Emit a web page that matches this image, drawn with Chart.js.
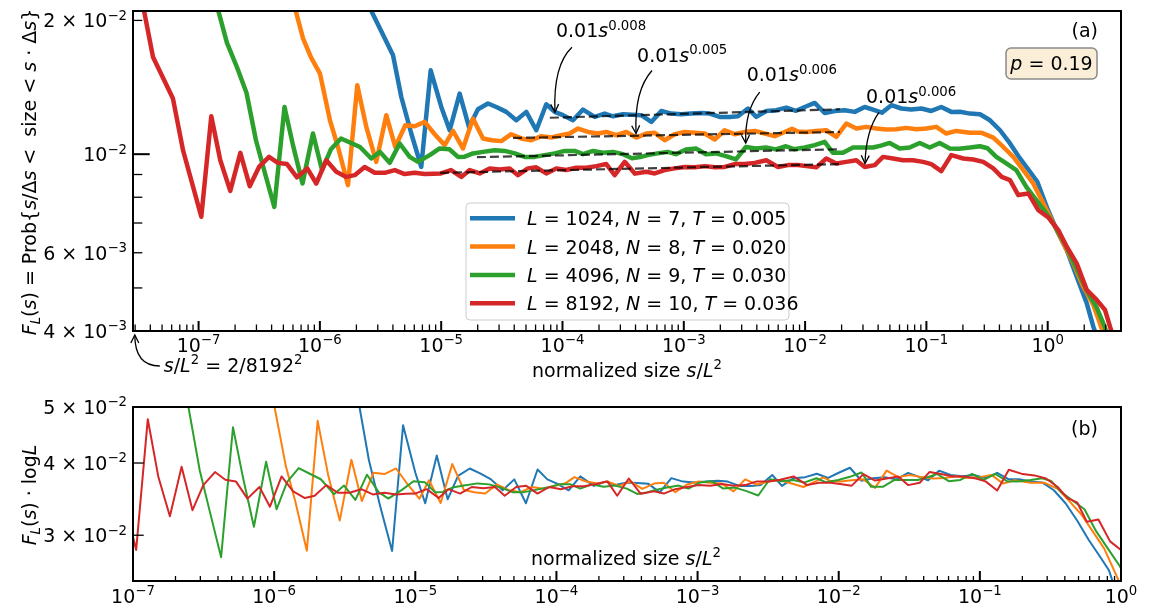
<!DOCTYPE html>
<html>
<head>
<meta charset="utf-8">
<title>Cluster size distribution</title>
<script src="https://cdn.jsdelivr.net/npm/chart.js@4.4.0/dist/chart.umd.min.js"></script>
<style>
  html, body { margin: 0; padding: 0; background: #fff; }
  #wrap { position: relative; width: 1150px; height: 606px; }
  #topBox { position: absolute; left: 0; top: 0; width: 1150px; height: 380px; }
  #botBox { position: absolute; left: 0; top: 380px; width: 1150px; height: 226px; }
</style>
</head>
<body>
<div id="wrap">
  <div id="topBox"><canvas id="topChart"></canvas></div>
  <div id="botBox"><canvas id="botChart"></canvas></div>
</div>
<script>
// Series parameters
const L_VALUES = [1024, 2048, 4096, 8192];
const N_VALUES = [7, 8, 9, 10];
const T_VALUES = ['0.005', '0.020', '0.030', '0.036'];
const COLORS = ['#1f77b4', '#ff7f0e', '#2ca02c', '#d62728'];

// F_L(s) against normalized size s/L^2, pairs [s/L^2, F_L]
const F_L1024 = [
  [1.91e-6, 0.02525], [4.01e-6, 0.01669], [4.69e-6, 0.01345], [5.67e-6, 0.01113], [6.85e-6, 0.00936],
  [8.19e-6, 0.01544], [1.002e-5, 0.01277], [1.175e-5, 0.01132], [1.42e-5, 0.01369], [1.695e-5, 0.0115],
  [2.01e-5, 0.01262], [2.43e-5, 0.0130], [2.88e-5, 0.01275], [3.44e-5, 0.01245], [4.16e-5, 0.01192],
  [5.03e-5, 0.01245], [6.08e-5, 0.01132], [7.35e-5, 0.01295], [8.62e-5, 0.01245], [1.009e-4, 0.01224],
  [1.221e-4, 0.01192], [1.476e-4, 0.0126], [1.842e-4, 0.01213], [2.228e-4, 0.01234], [2.607e-4, 0.01217],
  [3.153e-4, 0.0123], [3.74e-4, 0.01227], [4.46e-4, 0.01224], [5.40e-4, 0.01182], [6.52e-4, 0.01251],
  [7.89e-4, 0.01234], [9.54e-4, 0.0123], [1.153e-3, 0.01234], [1.394e-3, 0.01238], [1.635e-3, 0.01234],
  [1.977e-3, 0.01213], [2.39e-3, 0.01213], [2.797e-3, 0.01217], [3.382e-3, 0.01267], [3.96e-3, 0.01213],
  [4.79e-3, 0.01251], [5.79e-3, 0.01256], [7.0e-3, 0.01273], [8.41e-3, 0.01252], [9.92e-3, 0.01277],
  [1.2e-2, 0.01304], [1.45e-2, 0.01238], [1.754e-2, 0.01251], [2.121e-2, 0.01256], [2.564e-2, 0.01245],
  [3.10e-2, 0.01277], [3.63e-2, 0.0126], [4.30e-2, 0.0124], [5.14e-2, 0.01289], [6.21e-2, 0.01267],
  [7.51e-2, 0.0126], [9.08e-2, 0.01267], [0.1097, 0.01251], [0.1327, 0.01277], [0.1604, 0.01245],
  [0.1892, 0.01246], [0.2288, 0.01234], [0.2766, 0.0123], [0.3345, 0.01192], [0.4045, 0.01132],
  [0.4889, 0.01057], [0.5911, 0.00978], [0.7146, 0.00913], [0.821, 0.00867], [0.9813, 0.00761],
  [1.186, 0.00675], [1.435, 0.00609], [1.734, 0.0053], [2.097, 0.00462], [2.377, 0.00409], [2.699, 0.00372]
];

const F_L2048 = [
  [4.777e-7, 0.02729], [6.0e-7, 0.02219], [7.26e-7, 0.01823], [8.45e-7, 0.01652], [1.002e-6, 0.01518],
  [1.211e-6, 0.01192], [1.41e-6, 0.01038], [1.705e-6, 0.00852], [2.034e-6, 0.01429], [2.413e-6, 0.01152],
  [2.917e-6, 0.00961], [3.527e-6, 0.01224], [4.18e-6, 0.01038], [5.06e-6, 0.01162], [6.05e-6, 0.01156],
  [7.31e-6, 0.01182], [8.84e-6, 0.01109], [1.069e-5, 0.01048], [1.251e-5, 0.01128], [1.512e-5, 0.0103],
  [1.829e-5, 0.01203], [2.211e-5, 0.01085], [2.623e-5, 0.01075], [3.13e-5, 0.0107], [3.78e-5, 0.01109],
  [4.57e-5, 0.01085], [5.53e-5, 0.01075], [6.69e-5, 0.01098], [8.09e-5, 0.0109], [9.77e-5, 0.01103],
  [1.147e-4, 0.01113], [1.342e-4, 0.01142], [1.623e-4, 0.01122], [1.962e-4, 0.01113], [2.297e-4, 0.01122],
  [2.777e-4, 0.01103], [3.357e-4, 0.01122], [4.06e-4, 0.0109], [4.91e-4, 0.01113], [5.76e-4, 0.01117],
  [6.96e-4, 0.01075], [8.41e-4, 0.01109], [1.017e-3, 0.01122], [1.23e-3, 0.01117], [1.487e-3, 0.01113],
  [1.798e-3, 0.01079], [2.173e-3, 0.01132], [2.628e-3, 0.01109], [3.178e-3, 0.01122], [3.842e-3, 0.01128],
  [4.65e-3, 0.01113], [5.62e-3, 0.01098], [6.79e-3, 0.01122], [7.79e-3, 0.01141], [8.74e-3, 0.01124],
  [1.023e-2, 0.01122], [1.237e-2, 0.01128], [1.496e-2, 0.01132], [1.808e-2, 0.01094], [2.186e-2, 0.01172],
  [2.643e-2, 0.01142], [3.195e-2, 0.01152], [3.864e-2, 0.01142], [4.67e-2, 0.01136], [5.65e-2, 0.01138],
  [6.83e-2, 0.01146], [8.26e-2, 0.01138], [9.98e-2, 0.01142], [0.1207, 0.01152], [0.1459, 0.01113],
  [0.1764, 0.01128], [0.2288, 0.01117], [0.2857, 0.01117], [0.356, 0.0109], [0.4305, 0.01038],
  [0.5205, 0.00986], [0.6292, 0.00921], [0.7607, 0.00859], [0.9199, 0.00775], [1.112, 0.00699],
  [1.345, 0.0063], [1.626, 0.00568], [1.966, 0.00503], [2.376, 0.00458], [2.698, 0.00416], [3.024, 0.00378]
];

const F_L4096 = [
  [1.195e-7, 0.02564], [1.714e-7, 0.01781], [2.073e-7, 0.01569], [2.482e-7, 0.01375], [2.972e-7, 0.01075],
  [3.527e-7, 0.00906], [4.21e-7, 0.00761], [5.11e-7, 0.01277], [6.0e-7, 0.01048], [7.19e-7, 0.00859],
  [8.77e-7, 0.01113], [1.041e-6, 0.00921], [1.234e-6, 0.01026], [1.492e-6, 0.01085], [1.788e-6, 0.01061],
  [2.141e-6, 0.01038], [2.653e-6, 0.00978], [3.13e-6, 0.01012], [3.763e-6, 0.00956], [4.55e-6, 0.01057],
  [5.50e-6, 0.00986], [6.44e-6, 0.00961], [8.04e-6, 0.00995], [9.72e-6, 0.0103], [1.168e-5, 0.01026],
  [1.375e-5, 0.00986], [1.564e-5, 0.00987], [1.829e-5, 0.01004], [2.211e-5, 0.01012], [2.762e-5, 0.01021],
  [3.339e-5, 0.01017], [4.04e-5, 0.01004], [4.88e-5, 0.00986], [5.90e-5, 0.00986], [7.13e-5, 0.00995],
  [8.62e-5, 0.01004], [1.043e-4, 0.01017], [1.261e-4, 0.01017], [1.476e-4, 0.0100], [1.784e-4, 0.01017],
  [2.157e-4, 0.01007], [2.607e-4, 0.01012], [3.153e-4, 0.0100], [3.74e-4, 0.00979], [4.36e-4, 0.00985],
  [5.03e-4, 0.00995], [6.08e-4, 0.01004], [7.35e-4, 0.01012], [8.61e-4, 0.0100], [1.041e-3, 0.01025],
  [1.259e-3, 0.0103], [1.521e-3, 0.0100], [1.84e-3, 0.01004], [2.224e-3, 0.0099], [2.69e-3, 0.00973],
  [3.25e-3, 0.01038], [3.93e-3, 0.0103], [4.75e-3, 0.01035], [5.74e-3, 0.01025], [6.95e-3, 0.01042],
  [8.1e-3, 0.01026], [9.92e-3, 0.01035], [1.2e-2, 0.01048], [1.45e-2, 0.01066], [1.698e-2, 0.01007],
  [2.053e-2, 0.01007], [2.483e-2, 0.01035], [3.0e-2, 0.01035], [3.63e-2, 0.01035], [4.22e-2, 0.01045],
  [4.98e-2, 0.0106], [6.02e-2, 0.0103], [7.28e-2, 0.01035], [8.81e-2, 0.0106], [0.1065, 0.01035],
  [0.1287, 0.0106], [0.1557, 0.0103], [0.1857, 0.01029], [0.2288, 0.01035], [0.2766, 0.01042],
  [0.3195, 0.01031], [0.3771, 0.00986], [0.4558, 0.00953], [0.5509, 0.00921], [0.6662, 0.00844],
  [0.8054, 0.00788], [0.9739, 0.00736], [1.177, 0.00681], [1.424, 0.00619], [1.721, 0.00554],
  [2.081, 0.00495], [2.516, 0.00454], [2.945, 0.00409], [3.238, 0.00378]
];

const F_L8192 = [
  [2.98e-8, 0.0269], [4.21e-8, 0.01655], [6.15e-8, 0.01334], [7.44e-8, 0.01021], [1.053e-7, 0.00723],
  [1.273e-7, 0.01217], [1.51e-7, 0.00969], [1.825e-7, 0.00827], [2.21e-7, 0.01007], [2.64e-7, 0.00847],
  [3.15e-7, 0.00936], [3.81e-7, 0.00986], [4.51e-7, 0.00956], [5.36e-7, 0.0095], [6.47e-7, 0.00887],
  [7.87e-7, 0.00929], [9.34e-7, 0.00859], [1.129e-6, 0.00969], [1.365e-6, 0.00913], [1.651e-6, 0.00889],
  [1.936e-6, 0.00897], [2.34e-6, 0.00936], [2.83e-6, 0.00908], [3.42e-6, 0.00908], [4.14e-6, 0.00921],
  [5.0e-6, 0.00902], [6.05e-6, 0.00908], [7.31e-6, 0.00902], [8.56e-6, 0.00904], [9.96e-6, 0.00905],
  [1.205e-5, 0.00921], [1.465e-5, 0.00889], [1.718e-5, 0.00921], [2.077e-5, 0.00905], [2.512e-5, 0.00929],
  [3.036e-5, 0.00924], [3.67e-5, 0.00929], [4.30e-5, 0.00897], [5.19e-5, 0.00929], [6.08e-5, 0.00934],
  [7.35e-5, 0.00905], [8.89e-5, 0.00929], [1.075e-4, 0.00921], [1.30e-4, 0.00932], [1.571e-4, 0.00932],
  [1.90e-4, 0.0094], [2.297e-4, 0.0095], [2.694e-4, 0.00897], [3.257e-4, 0.00961], [3.96e-4, 0.00904],
  [4.91e-4, 0.00913], [5.76e-4, 0.00905], [6.96e-4, 0.00921], [8.41e-4, 0.00929], [1.017e-3, 0.00936],
  [1.23e-3, 0.00934], [1.487e-3, 0.0094], [1.798e-3, 0.00934], [2.173e-3, 0.00936], [2.628e-3, 0.0095],
  [3.178e-3, 0.0095], [3.842e-3, 0.00956], [4.79e-3, 0.00969], [5.98e-3, 0.00936], [7.23e-3, 0.00945],
  [8.74e-3, 0.00945], [1.023e-2, 0.0094], [1.237e-2, 0.00934], [1.496e-2, 0.00978], [1.808e-2, 0.00953],
  [2.186e-2, 0.00961], [2.643e-2, 0.00969], [3.10e-2, 0.00936], [3.75e-2, 0.00945], [4.39e-2, 0.00986],
  [5.31e-2, 0.00978], [6.41e-2, 0.00969], [7.75e-2, 0.00969], [9.38e-2, 0.00961], [0.1097, 0.0095],
  [0.1327, 0.00916], [0.1604, 0.00995], [0.2014, 0.00978], [0.2435, 0.00973], [0.2944, 0.00961],
  [0.356, 0.00929], [0.4176, 0.00889], [0.4889, 0.00874], [0.5723, 0.00809], [0.692, 0.00816],
  [0.8367, 0.00748], [1.011, 0.00721], [1.223, 0.00675], [1.435, 0.00619], [1.734, 0.00568],
  [2.097, 0.00495], [2.535, 0.0047], [2.969, 0.00446], [3.264, 0.00409], [3.66, 0.00372]
];

const SERIES = [F_L1024, F_L2048, F_L4096, F_L8192];

// plateau guides a*x^b, drawn from FIT_FROM to FIT_TO
const FIT_EXPONENTS = [0.008, 0.005, 0.006, 0.006];
const FIT_FROM = [7.87e-5, 3.91e-5, 1.97e-5, 9.79e-6];
const FIT_TO = 1.94e-2;
const FIT_LEVEL = [0.01262, 0.01122, 0.01026, 0.0095];

// tick values
const X_DECADES = [1e-7, 1e-6, 1e-5, 1e-4, 1e-3, 1e-2, 1e-1, 1];
const TOP_Y_TICKS = [0.004, 0.006, 0.01, 0.02];
const BOT_Y_TICKS = [0.03, 0.04, 0.05];

const P_VALUE = '0.19';
const SMALLEST = '2/8192';

const FONT = 'DejaVu Sans';
const FS = 19;

// ---------- text helpers (mathtext-like runs) ----------
function fontSpec(size, italic) {
  return (italic ? 'italic ' : '') + size + 'px "' + FONT + '"';
}

function runSize(st) {
  return (st.includes('sup') || st.includes('sub')) ? FS * 0.7 : FS;
}

function richWidth(ctx, parts) {
  let w = 0;
  for (const [t, st = ''] of parts) {
    ctx.font = fontSpec(runSize(st), st.startsWith('i'));
    w += ctx.measureText(t).width;
  }
  return w;
}

function drawRich(ctx, parts, x, y, align = 'left') {
  const w = richWidth(ctx, parts);
  let cx = align === 'center' ? x - w / 2 : align === 'right' ? x - w : x;
  ctx.textAlign = 'left';
  ctx.textBaseline = 'alphabetic';
  for (const [t, st = ''] of parts) {
    ctx.font = fontSpec(runSize(st), st.startsWith('i'));
    const dy = st.includes('sup') ? -FS * 0.4 : st.includes('sub') ? FS * 0.22 : 0;
    ctx.fillText(t, cx, y + dy);
    cx += ctx.measureText(t).width;
  }
}

function logLabel(v) {
  const e = Math.floor(Math.log10(v) + 1e-9);
  const m = Math.round(v / Math.pow(10, e));
  const parts = [];
  if (m !== 1) parts.push([m + ' × ']);
  parts.push(['10'], [(e < 0 ? '−' : '') + Math.abs(e), 'sup']);
  return parts;
}

function minorTicks(lo, hi) {
  const out = [];
  for (let e = Math.floor(Math.log10(lo)); e <= Math.ceil(Math.log10(hi)); e++) {
    for (let k = 2; k <= 9; k++) {
      const v = k * Math.pow(10, e);
      if (v >= lo && v <= hi) out.push(v);
    }
  }
  return out;
}

function arrow(ctx, tail, ctrl, tip) {
  ctx.lineWidth = 1.3;
  ctx.beginPath();
  ctx.moveTo(tail[0], tail[1]);
  ctx.quadraticCurveTo(ctrl[0], ctrl[1], tip[0], tip[1]);
  ctx.stroke();
  const dx = tip[0] - ctrl[0], dy = tip[1] - ctrl[1];
  const len = Math.hypot(dx, dy);
  const ux = dx / len, uy = dy / len;
  const hl = 8, hw = 4;
  ctx.beginPath();
  ctx.moveTo(tip[0] - ux * hl - uy * hw, tip[1] - uy * hl + ux * hw);
  ctx.lineTo(tip[0], tip[1]);
  ctx.lineTo(tip[0] - ux * hl + uy * hw, tip[1] - uy * hl - ux * hw);
  ctx.stroke();
}

function roundRect(ctx, x, y, w, h, r) {
  ctx.beginPath();
  ctx.moveTo(x + r, y);
  ctx.arcTo(x + w, y, x + w, y + h, r);
  ctx.arcTo(x + w, y + h, x, y + h, r);
  ctx.arcTo(x, y + h, x, y, r);
  ctx.arcTo(x, y, x + w, y, r);
  ctx.closePath();
}

// spines, inward ticks, tick labels, then chart specific extras
function axesPlugin(cfg) {
  return {
    id: 'axesDecor',
    afterDatasetsDraw(chart) {
      const { ctx, chartArea: a, scales } = chart;
      const xs = scales.x, ys = scales.y;
      ctx.save();
      ctx.strokeStyle = '#000';
      ctx.fillStyle = '#000';
      ctx.lineCap = 'butt';

      const xTick = (v, len, w) => {
        const px = xs.getPixelForValue(v);
        if (px < a.left - 0.5 || px > a.right + 0.5) return;
        ctx.lineWidth = w;
        ctx.beginPath();
        ctx.moveTo(px, a.bottom);
        ctx.lineTo(px, a.bottom - len);
        ctx.stroke();
      };
      const yTick = (v, len, w) => {
        const py = ys.getPixelForValue(v);
        ctx.lineWidth = w;
        ctx.beginPath();
        ctx.moveTo(a.left, py);
        ctx.lineTo(a.left + len, py);
        ctx.stroke();
      };

      minorTicks(xs.min, xs.max).forEach(v => xTick(v, cfg.xMinorLen, 1.3));
      X_DECADES.forEach(v => xTick(v, 10, 2));
      cfg.yMinor.forEach(v => yTick(v, cfg.yMinorLen, 1.3));
      cfg.yMajor.forEach(v => yTick(v, 16.7, 2));

      ctx.lineWidth = 2;
      ctx.strokeRect(a.left, a.top, a.right - a.left, a.bottom - a.top);

      X_DECADES.forEach(v => {
        const px = xs.getPixelForValue(v);
        drawRich(ctx, logLabel(v), px, a.bottom + cfg.xLabelGap, 'center');
      });
      cfg.yLabels.forEach(v => {
        const py = ys.getPixelForValue(v);
        drawRich(ctx, logLabel(v), a.left - 6, py + 7, 'right');
      });

      cfg.extra(ctx, chart);
      ctx.restore();
    }
  };
}

// ---------- top panel extras ----------
const GUIDE_NOTES = [
  { tip: [8.67e-5, 0.01243], tail: [17, -65], ctrl: [-2, -47], text: [1, -75] },
  { tip: [4.04e-4, 0.01113], tail: [16, -63], ctrl: [-2, -43], text: [1, -72] },
  { tip: [3.24e-3, 0.01059], tail: [14, -51], ctrl: [-1, -33], text: [1, -62] },
  { tip: [3.118e-2, 0.00953], tail: [14, -51], ctrl: [1, -33], text: [1, -60] }
];

function drawTopExtras(ctx, chart) {
  const a = chart.chartArea, xs = chart.scales.x, ys = chart.scales.y;

  // axis titles
  drawRich(ctx, [['normalized size '], ['s', 'i'], ['/'], ['L', 'i'], ['2', 'sup']], 627, 377, 'center');
  ctx.save();
  ctx.translate(36, 172);
  ctx.rotate(-Math.PI / 2);
  drawRich(ctx, [['F', 'i'], ['L', 'isub'], ['('], ['s', 'i'], [') = Prob{'], ['s', 'i'], ['/Δ'], ['s', 'i'],
    [' <  size < '], ['s', 'i'], [' · Δ'], ['s', 'i'], ['}']], 0, 0, 'center');
  ctx.restore();

  // guide annotations with curved arrows
  GUIDE_NOTES.forEach((n, i) => {
    const tx = xs.getPixelForValue(n.tip[0]);
    const ty = ys.getPixelForValue(n.tip[1]);
    arrow(ctx, [tx + n.tail[0], ty + n.tail[1]], [tx + n.ctrl[0], ty + n.ctrl[1]], [tx, ty]);
    drawRich(ctx, [['0.01'], ['s', 'i'], [FIT_EXPONENTS[i].toFixed(3), 'sup']], tx + n.text[0], ty + n.text[1]);
  });

  // smallest cluster marker below the axis
  const lx = xs.getPixelForValue(2 / (8192 * 8192));
  arrow(ctx, [lx + 25, a.bottom + 35], [lx, a.bottom + 35], [lx, a.bottom + 4]);
  drawRich(ctx, [['s', 'i'], ['/'], ['L', 'i'], ['2', 'sup'], [' = ' + SMALLEST], ['2', 'sup']], lx + 29, a.bottom + 41);

  // panel tag and parameter box
  drawRich(ctx, [['(a)']], a.right - 23, 37, 'right');
  ctx.lineWidth = 1.5;
  ctx.fillStyle = '#faeed9';
  ctx.strokeStyle = '#8a8a8a';
  roundRect(ctx, 1006, 48, 91, 31, 5);
  ctx.fill();
  ctx.stroke();
  ctx.fillStyle = '#000';
  drawRich(ctx, [['p', 'i'], [' = ' + P_VALUE]], 1051.5, 70, 'center');

  // legend
  ctx.fillStyle = 'rgba(255,255,255,0.8)';
  ctx.strokeStyle = '#cccccc';
  ctx.lineWidth = 1;
  roundRect(ctx, 466, 203, 323, 117, 4);
  ctx.fill();
  ctx.stroke();
  L_VALUES.forEach((L, i) => {
    const ry = 218.3 + i * 28.3;
    ctx.strokeStyle = COLORS[i];
    ctx.lineWidth = 4.5;
    ctx.beginPath();
    ctx.moveTo(470, ry);
    ctx.lineTo(515, ry);
    ctx.stroke();
    ctx.fillStyle = '#000';
    drawRich(ctx, [['L', 'i'], [' = ' + L + ', '], ['N', 'i'], [' = ' + N_VALUES[i] + ', '], ['T', 'i'], [' = ' + T_VALUES[i]]], 527, ry + 7);
  });
}

// ---------- bottom panel extras ----------
function drawBottomExtras(ctx, chart) {
  const a = chart.chartArea;
  drawRich(ctx, [['normalized size '], ['s', 'i'], ['/'], ['L', 'i'], ['2', 'sup']], 626, 185, 'center');
  ctx.save();
  ctx.translate(36, 115);
  ctx.rotate(-Math.PI / 2);
  drawRich(ctx, [['F', 'i'], ['L', 'isub'], ['('], ['s', 'i'], [') · log'], ['L', 'i']], 0, 0, 'center');
  ctx.restore();
  drawRich(ctx, [['(b)']], a.right - 23, 55, 'right');
}

// ---------- datasets ----------
function seriesDatasets(scaleByLog, width) {
  return SERIES.map((s, i) => {
    const k = scaleByLog ? Math.log10(L_VALUES[i]) : 1;
    return {
      label: 'L = ' + L_VALUES[i] + ', N = ' + N_VALUES[i] + ', T = ' + T_VALUES[i],
      data: s.map(([x, y]) => ({ x: x, y: y * k })),
      borderColor: COLORS[i],
      borderWidth: width,
      borderJoinStyle: 'round',
      fill: false,
      pointRadius: 0,
      tension: 0,
      clip: 0,
      order: 10 - i
    };
  });
}

const fitDatasets = FIT_EXPONENTS.map((b, i) => ({
  label: 'fit ' + i,
  data: [
    { x: FIT_FROM[i], y: FIT_LEVEL[i] * Math.pow(FIT_FROM[i] / FIT_TO, b) },
    { x: FIT_TO, y: FIT_LEVEL[i] }
  ],
  borderColor: 'rgba(0,0,0,0.75)',
  borderWidth: 2.2,
  borderDash: [9, 4],
  pointRadius: 0,
  fill: false,
  clip: 0,
  order: 0
}));

function logAxis(min, max, size, isX) {
  return {
    type: 'logarithmic',
    min: min,
    max: max,
    grid: { display: false },
    border: { display: false },
    ticks: { display: false },
    afterFit: s => { if (isX) s.height = size; else s.width = size; }
  };
}

const common = {
  responsive: true,
  maintainAspectRatio: false,
  animation: false,
  events: [],
  plugins: { legend: { display: false }, tooltip: { enabled: false } }
};

new Chart(document.getElementById('topChart'), {
  type: 'line',
  data: { datasets: seriesDatasets(false, 4.5).concat(fitDatasets) },
  options: Object.assign({}, common, {
    layout: { padding: { top: 11, right: 29, left: 0, bottom: 0 } },
    scales: {
      x: logAxis(2.88e-8, 4.02, 49, true),
      y: logAxis(0.004, 0.021, 133, false)
    }
  }),
  plugins: [axesPlugin({
    xMinorLen: 6.5,
    yMajor: [0.01],
    yMinor: minorTicks(0.004, 0.021),
    yMinorLen: 9.3,
    yLabels: TOP_Y_TICKS,
    xLabelGap: 21,
    extra: drawTopExtras
  })]
});

new Chart(document.getElementById('botChart'), {
  type: 'line',
  data: { datasets: seriesDatasets(true, 2) },
  options: Object.assign({}, common, {
    layout: { padding: { top: 27, right: 29, left: 0, bottom: 0 } },
    scales: {
      x: logAxis(1e-7, 1, 25, true),
      y: logAxis(0.0251, 0.05, 133, false)
    }
  }),
  plugins: [axesPlugin({
    xMinorLen: 5,
    yMajor: [],
    yMinor: BOT_Y_TICKS,
    yMinorLen: 10.7,
    yLabels: BOT_Y_TICKS,
    xLabelGap: 22,
    extra: drawBottomExtras
  })]
});
</script>
</body>
</html>
